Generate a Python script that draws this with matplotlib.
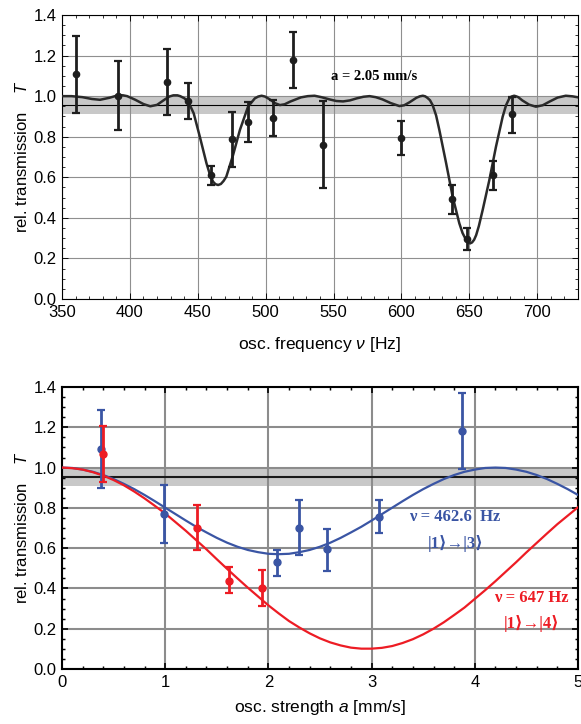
import matplotlib
matplotlib.use("Agg")
import matplotlib.pyplot as plt
import numpy as np
from matplotlib.ticker import MultipleLocator

plt.rcParams['font.family'] = ['Liberation Sans', 'DejaVu Sans']
plt.rcParams['mathtext.fontset'] = 'custom'
plt.rcParams['mathtext.rm'] = 'Liberation Sans'
plt.rcParams['mathtext.it'] = 'Liberation Sans:italic'

# --- top panel: transmission vs frequency (a = 2.05 mm/s) ---
freq = [360, 391.5, 427, 443, 459.5, 475, 487, 505.5, 520, 542, 600, 637.5, 648, 667.5, 681.5]
T_freq = [1.109, 1.003, 1.070, 0.975, 0.609, 0.789, 0.873, 0.891, 1.178, 0.760, 0.796, 0.492, 0.297, 0.609, 0.911]
T_freq_hi = [1.297, 1.172, 1.231, 1.064, 0.657, 0.922, 0.972, 0.981, 1.315, 0.978, 0.878, 0.563, 0.348, 0.678, 0.998]
T_freq_lo = [0.919, 0.834, 0.906, 0.888, 0.561, 0.653, 0.773, 0.804, 1.039, 0.547, 0.711, 0.419, 0.243, 0.538, 0.817]

# fit curve
fit_f = [350, 357, 365, 372, 378, 385, 389, 392, 395, 398, 404, 410, 415, 420, 426, 429, 432, 435,
         437, 440, 443, 447, 451.5, 456.4, 459, 461.3, 463, 465, 467, 469, 471, 476, 481, 487, 492,
         494.5, 497, 499.5, 503, 507, 510.5, 514, 518, 526, 531, 536, 541, 547, 552, 557, 562, 567,
         572, 576.5, 581, 586, 592, 598.5, 602, 606, 611, 613.5, 615.7, 617.5, 619, 621, 623, 625.5,
         627.9, 632.9, 637.7, 642.6, 645, 647.6, 649, 650.5, 652, 653.5, 655, 657, 659.8, 664.7,
         669.6, 674.5, 677, 679.4, 681, 683, 684.5, 686, 689, 694, 699, 704, 709, 715, 721, 726, 731]
fit_T = [1.000, 1.000, 0.995, 0.986, 0.982, 0.992, 1.000, 1.005, 1.004, 1.000, 0.982, 0.961, 0.950,
         0.957, 0.985, 0.998, 1.004, 1.004, 1.000, 0.990, 0.973, 0.915, 0.800, 0.669, 0.612, 0.578,
         0.566, 0.562, 0.567, 0.582, 0.603, 0.710, 0.833, 0.948, 0.989, 0.998, 1.002, 0.998, 0.984,
         0.965, 0.956, 0.960, 0.973, 0.994, 1.000, 1.002, 0.995, 0.984, 0.976, 0.974, 0.979, 0.989,
         0.997, 1.000, 0.995, 0.984, 0.966, 0.951, 0.955, 0.970, 0.992, 0.999, 1.002, 0.999, 0.992,
         0.980, 0.955, 0.905, 0.833, 0.669, 0.504, 0.373, 0.325, 0.291, 0.279, 0.274, 0.279, 0.292,
         0.315, 0.360, 0.439, 0.586, 0.751, 0.898, 0.955, 0.989, 0.998, 1.002, 0.999, 0.995, 0.979,
         0.958, 0.948, 0.955, 0.973, 0.993, 1.002, 0.999, 0.993]

# --- bottom panel: transmission vs oscillation strength ---
a_blue = [0.375, 0.99, 2.08, 2.30, 2.57, 3.07, 3.88]
T_blue = [1.091, 0.770, 0.530, 0.702, 0.596, 0.753, 1.183]
T_blue_hi = [1.286, 0.912, 0.589, 0.839, 0.695, 0.839, 1.369]
T_blue_lo = [0.897, 0.624, 0.463, 0.566, 0.488, 0.674, 0.991]

a_red = [0.40, 1.31, 1.62, 1.94]
T_red = [1.068, 0.702, 0.439, 0.404]
T_red_hi = [1.207, 0.813, 0.505, 0.490]
T_red_lo = [0.927, 0.591, 0.375, 0.313]

curve_a = [0.0, 0.1, 0.2, 0.3, 0.4, 0.5, 0.6, 0.7, 0.8, 0.9, 1.0, 1.1, 1.2, 1.3, 1.4, 1.5, 1.6,
           1.7, 1.8, 1.9, 2.0, 2.1, 2.2, 2.3, 2.4, 2.5, 2.6, 2.7, 2.8, 2.9, 3.0, 3.1, 3.2, 3.3,
           3.4, 3.5, 3.6, 3.7, 3.8, 3.9, 4.0, 4.1, 4.2, 4.3, 4.4, 4.5, 4.6, 4.7, 4.8, 4.9, 5.0]
curve_blue = [1.000, 0.998, 0.990, 0.979, 0.963, 0.943, 0.919, 0.893, 0.864, 0.833, 0.801, 0.769,
              0.737, 0.706, 0.678, 0.651, 0.627, 0.607, 0.591, 0.580, 0.572, 0.570, 0.572, 0.580,
              0.591, 0.607, 0.627, 0.651, 0.678, 0.706, 0.737, 0.769, 0.801, 0.833, 0.864, 0.893,
              0.919, 0.943, 0.963, 0.979, 0.990, 0.998, 1.000, 0.998, 0.990, 0.979, 0.963, 0.943,
              0.919, 0.893, 0.864]
curve_red = [1.000, 0.997, 0.990, 0.977, 0.960, 0.938, 0.912, 0.881, 0.847, 0.810, 0.772, 0.729,
             0.686, 0.640, 0.594, 0.545, 0.497, 0.450, 0.404, 0.360, 0.316, 0.276, 0.238, 0.206,
             0.177, 0.152, 0.132, 0.117, 0.106, 0.101, 0.101, 0.105, 0.114, 0.129, 0.148, 0.172,
             0.200, 0.232, 0.268, 0.305, 0.348, 0.391, 0.436, 0.483, 0.530, 0.579, 0.626, 0.673,
             0.719, 0.761, 0.803]

band_lo, band_hi, band_mid = 0.91, 1.0, 0.955

blue = "#3a55a4"
red = "#ed1c24"
dark = "#1e1e1e"

fig = plt.figure(figsize=(5.81, 7.24), dpi=100)
ax1 = fig.add_axes([62/581, 1 - 299/724, 516/581, 284/724])
ax2 = fig.add_axes([62/581, 1 - 669/724, 516/581, 282/724])


def style_axes(ax, spine_w, grid_w, grid_c):
    ax.set_axisbelow(True)
    ax.grid(True, which='major', color=grid_c, linewidth=grid_w)
    ax.tick_params(which='both', direction='in', top=True, right=True,
                   labelsize=12, colors='black', pad=4)
    ax.tick_params(which='major', length=4.5, width=spine_w * 0.8)
    ax.tick_params(which='minor', length=2.5, width=spine_w * 0.7)
    for sp in ax.spines.values():
        sp.set_linewidth(spine_w)
        sp.set_color('black')
    ax.axhspan(band_lo, band_hi, color='#c8c8c8', zorder=0.2, linewidth=0)


# top panel
style_axes(ax1, 0.8, 0.8, '#8f8f8f')
ax1.axhline(band_mid, color='black', linewidth=0.8, zorder=1)
ax1.plot(fit_f, fit_T, color='#2a2a2a', linewidth=1.8, zorder=3)
yerr = [np.array(T_freq) - np.array(T_freq_lo), np.array(T_freq_hi) - np.array(T_freq)]
ax1.errorbar(freq, T_freq, yerr=yerr, fmt='o', color=dark, markersize=4.5,
             elinewidth=2.0, capsize=3, capthick=1.6, zorder=4)
ax1.set_xlim(350, 730)
ax1.set_ylim(0, 1.4)
ax1.xaxis.set_major_locator(MultipleLocator(50))
ax1.xaxis.set_minor_locator(MultipleLocator(10))
ax1.yaxis.set_major_locator(MultipleLocator(0.2))
ax1.yaxis.set_minor_locator(MultipleLocator(0.05))
ax1.yaxis.set_major_formatter(lambda v, p: f"{v:.1f}")
ax1.set_xlabel(r"osc. frequency $\nu$ [Hz]", fontsize=12.5)
ax1.set_ylabel(r"rel. transmission    $T$", fontsize=12)
ax1.xaxis.set_label_coords(0.5, -0.128)
ax1.yaxis.set_label_coords(-0.062, 0.5)
ax1.text(580, 1.095, "a = 2.05 mm/s", ha='center', va='center', fontsize=10.5,
         fontweight='bold', family=['Liberation Serif', 'DejaVu Serif'], zorder=5)

# bottom panel
style_axes(ax2, 1.5, 1.5, '#8c8c8c')
ax2.axhline(band_mid, color='#1a1a1a', linewidth=1.5, zorder=1)
ax2.plot(curve_a, curve_blue, color=blue, linewidth=1.6, zorder=3)
ax2.plot(curve_a, curve_red, color=red, linewidth=1.6, zorder=3)
yerr_b = [np.array(T_blue) - np.array(T_blue_lo), np.array(T_blue_hi) - np.array(T_blue)]
yerr_r = [np.array(T_red) - np.array(T_red_lo), np.array(T_red_hi) - np.array(T_red)]
ax2.errorbar(a_blue, T_blue, yerr=yerr_b, fmt='o', color=blue, markersize=5,
             elinewidth=2.0, capsize=3, capthick=1.6, zorder=4)
ax2.errorbar(a_red, T_red, yerr=yerr_r, fmt='o', color=red, markersize=5,
             elinewidth=2.0, capsize=3, capthick=1.6, zorder=5)
ax2.set_xlim(0, 5)
ax2.set_ylim(0, 1.4)
ax2.xaxis.set_major_locator(MultipleLocator(1))
ax2.xaxis.set_minor_locator(MultipleLocator(0.2))
ax2.yaxis.set_major_locator(MultipleLocator(0.2))
ax2.yaxis.set_minor_locator(MultipleLocator(0.05))
ax2.yaxis.set_major_formatter(lambda v, p: f"{v:.1f}")
ax2.set_xlabel(r"osc. strength $a$ [mm/s]", fontsize=12.5)
ax2.set_ylabel(r"rel. transmission    $T$", fontsize=12)
ax2.xaxis.set_label_coords(0.5, -0.103)
ax2.yaxis.set_label_coords(-0.062, 0.5)

serif = ['Liberation Serif', 'DejaVu Serif', 'DejaVu Sans']
ax2.text(3.80, 0.753, "ν = 462.6  Hz", color=blue, ha='center', va='center',
         fontsize=12, fontweight='bold', family=serif)
ax2.text(3.81, 0.624, "|1⟩→|3⟩", color=blue, ha='center', va='center',
         fontsize=12, fontweight='bold', family=serif)
ax2.text(4.55, 0.351, "ν = 647 Hz", color=red, ha='center', va='center',
         fontsize=12, fontweight='bold', family=serif)
ax2.text(4.55, 0.227, "|1⟩→|4⟩", color=red, ha='center', va='center',
         fontsize=12, fontweight='bold', family=serif)

fig.savefig("out.png", dpi=100)
